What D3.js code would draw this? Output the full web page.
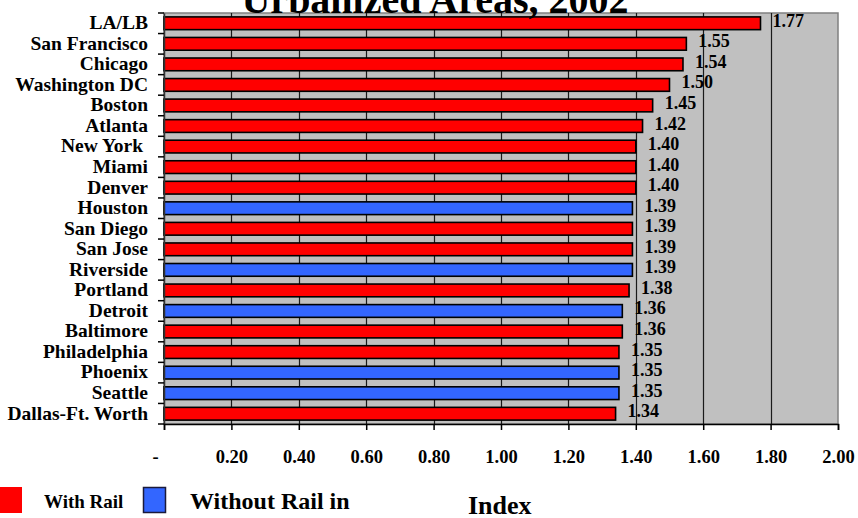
<!DOCTYPE html>
<html>
<head>
<meta charset="utf-8">
<script src="https://cdn.jsdelivr.net/npm/d3@7"></script>
<style>
  html, body { margin: 0; padding: 0; background: #ffffff; }
  svg { display: block; }
</style>
</head>
<body>
<script>
// Travel time index by urbanized area
const cities = ["LA/LB", "San Francisco", "Chicago", "Washington DC", "Boston", "Atlanta",
  "New York ", "Miami", "Denver", "Houston", "San Diego", "San Jose", "Riverside", "Portland",
  "Detroit", "Baltimore", "Philadelphia", "Phoenix", "Seattle", "Dallas-Ft. Worth"];
const indexValues = [1.77, 1.55, 1.54, 1.50, 1.45, 1.42, 1.40, 1.40, 1.40, 1.39,
  1.39, 1.39, 1.39, 1.38, 1.36, 1.36, 1.35, 1.35, 1.35, 1.34];
const hasRail = [true, true, true, true, true, true, true, true, true, false,
  true, true, false, true, false, true, true, false, false, true];
const xTicks = [0, 0.2, 0.4, 0.6, 0.8, 1.0, 1.2, 1.4, 1.6, 1.8, 2.0];
const legendLabels = ["With Rail", "Without Rail in"];
const titleText = "Urbanized Areas, 2002";
const axisTitle = "Index";

const W = 858, H = 518;
const plot = { left: 164, right: 838, top: 13, bottom: 424 };
const RED = "#ff0000", BLUE = "#3366ff", PLOT_BG = "#c0c0c0";
const FONT = '"Liberation Serif"';

const svg = d3.select("body").append("svg").attr("width", W).attr("height", H);

function serif(sel, size) {
  return sel.attr("font-family", null).style("font-family", FONT).style("font-weight", "bold")
    .style("font-size", size + "px").style("fill", "#000");
}

const x = d3.scaleLinear().domain([0, 2]).range([plot.left, plot.right]);
const y = d3.scaleBand().domain(cities).range([plot.top, plot.bottom]).paddingInner(0.38).paddingOuter(0.19);
const band = d3.scaleBand().domain(cities).range([plot.top, plot.bottom]);

// plot background
svg.append("rect")
  .attr("x", plot.left).attr("y", plot.top)
  .attr("width", plot.right - plot.left).attr("height", plot.bottom - plot.top)
  .attr("fill", PLOT_BG).attr("stroke", "#808080").attr("stroke-width", 1.5);

// vertical gridlines
svg.append("g").selectAll("line")
  .data(xTicks.filter(t => t > 0 && t < 2))
  .join("line")
  .attr("x1", d => Math.round(x(d)) + 0.5).attr("x2", d => Math.round(x(d)) + 0.5)
  .attr("y1", plot.top).attr("y2", plot.bottom)
  .attr("stroke", "#1a1a1a").attr("stroke-width", 1.2);

// bars
svg.append("g").selectAll("rect")
  .data(cities)
  .join("rect")
  .attr("x", x(0))
  .attr("y", d => y(d))
  .attr("width", (d, i) => x(indexValues[i]) - x(0))
  .attr("height", y.bandwidth())
  .attr("fill", (d, i) => hasRail[i] ? RED : BLUE)
  .attr("stroke", "#000").attr("stroke-width", 1.6);

// value labels
serif(svg.append("g").selectAll("text")
  .data(cities)
  .join("text")
  .attr("x", (d, i) => x(indexValues[i]) + 12)
  .attr("y", d => y(d) + y.bandwidth() / 2 + 3.5)
  .text((d, i) => indexValues[i].toFixed(2)), 18);

// category axis
const yAxis = d3.axisLeft(band).tickSize(0).tickPadding(16);
const gy = svg.append("g").attr("transform", `translate(${plot.left},0)`).call(yAxis)
  .attr("font-family", null);
gy.select(".domain").attr("stroke", "#333").attr("stroke-width", 1.5);
serif(gy.selectAll(".tick text"), 19.5).attr("dy", "0.3em").style("white-space", "pre");
// tick marks between categories
svg.append("g").selectAll("line")
  .data(d3.range(cities.length + 1))
  .join("line")
  .attr("x1", plot.left - 6).attr("x2", plot.left)
  .attr("y1", i => plot.top + i * band.step()).attr("y2", i => plot.top + i * band.step())
  .attr("stroke", "#000").attr("stroke-width", 1.5);

// value axis
const xAxis = d3.axisBottom(x).tickValues(xTicks).tickSize(6).tickPadding(20)
  .tickFormat(d => d === 0 ? "-" : d3.format(".2f")(d));
const gx = svg.append("g").attr("transform", `translate(0,${plot.bottom})`).call(xAxis)
  .attr("font-family", null);
gx.select(".domain").attr("stroke", "#000").attr("stroke-width", 1.5);
gx.selectAll(".tick line").attr("stroke", "#000").attr("stroke-width", 1.5);
serif(gx.selectAll(".tick text"), 18.5).attr("dx", d => d === 0 ? -9 : 0);

// title (upper lines fall outside the frame)
serif(svg.append("text")
  .attr("x", 435).attr("y", 13)
  .attr("text-anchor", "middle")
  .text(titleText), 40);

// legend
svg.append("rect").attr("x", -2).attr("y", 487).attr("width", 24).attr("height", 26).attr("fill", RED);
serif(svg.append("text").attr("x", 44).attr("y", 508).text(legendLabels[0]), 19);
svg.append("rect").attr("x", 143.5).attr("y", 487.5).attr("width", 22).attr("height", 25)
  .attr("fill", BLUE).attr("stroke", "#1a1a3a").attr("stroke-width", 1.5);
serif(svg.append("text").attr("x", 190).attr("y", 509).text(legendLabels[1]), 24);

// axis title
serif(svg.append("text").attr("x", 468).attr("y", 514).text(axisTitle), 26);
</script>
</body>
</html>
